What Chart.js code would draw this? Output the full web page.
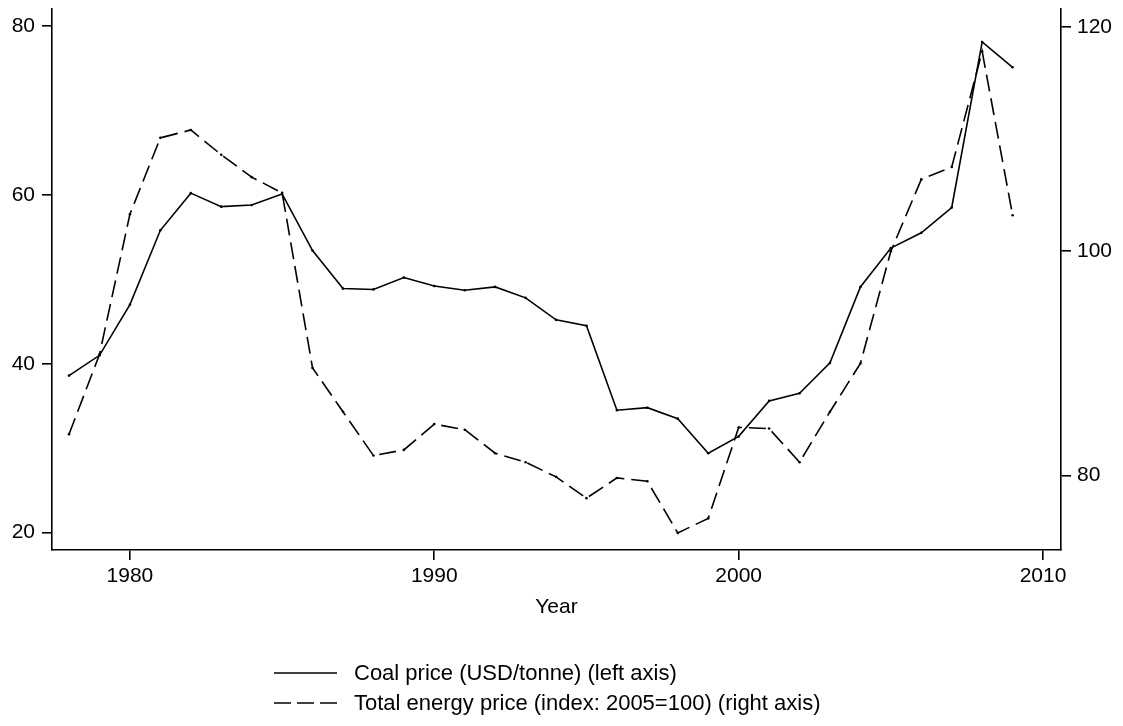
<!DOCTYPE html>
<html>
<head>
<meta charset="utf-8">
<script src="https://cdn.jsdelivr.net/npm/chart.js@4"></script>
<style>
    body { margin: 0; background: #fff; }
    #wrap { position: relative; width: 1123px; height: 726px; }
    .legRow { position: absolute; left: 274px; height: 26px; display: flex; align-items: center;
              font-family: "Liberation Sans", Arial, sans-serif; font-size: 22px; color: #000; }
    .legRow svg { margin-right: 17px; }
</style>
</head>
<body>
<div id="wrap">
    <canvas id="coalChart" width="1123" height="726"></canvas>
    <div class="legRow" style="top:660px">
        <svg width="63" height="4"><line x1="0" y1="2" x2="63" y2="2" stroke="#000" stroke-width="1.6"/></svg>
        <span>Coal price (USD/tonne) (left axis)</span>
    </div>
    <div class="legRow" style="top:690px">
        <svg width="63" height="4"><line x1="0" y1="2" x2="63" y2="2" stroke="#000" stroke-width="1.6" stroke-dasharray="17 6"/></svg>
        <span>Total energy price (index: 2005=100) (right axis)</span>
    </div>
</div>
<script>
const years = [1978, 1979, 1980, 1981, 1982, 1983, 1984, 1985, 1986, 1987, 1988, 1989, 1990, 1991, 1992, 1993,
    1994, 1995, 1996, 1997, 1998, 1999, 2000, 2001, 2002, 2003, 2004, 2005, 2006, 2007, 2008, 2009];
const coalPrice = [38.6, 41.0, 47.0, 55.8, 60.2, 58.6, 58.8, 60.1, 53.4, 48.9, 48.8, 50.2, 49.2, 48.7, 49.1, 47.8,
    45.2, 44.5, 34.5, 34.8, 33.5, 29.4, 31.4, 35.6, 36.5, 40.1, 49.1, 53.7, 55.5, 58.5, 78.1, 75.1];
const energyIndex = [83.7, 90.8, 103.3, 110.1, 110.8, 108.6, 106.6, 105.2, 89.6, 85.7, 81.8, 82.3, 84.6, 84.1, 82.0, 81.2,
    79.9, 78.0, 79.8, 79.5, 74.9, 76.2, 84.3, 84.2, 81.2, 85.7, 90.0, 100.0, 106.4, 107.5, 117.8, 103.2];

const xTicks = [1980, 1990, 2000, 2010];
const leftTicks = [20, 40, 60, 80];
const rightTicks = [80, 100, 120];

const font = { family: '"Liberation Sans", Arial, sans-serif', size: 21 };

function axisStyle() {
    return {
        grid: { display: true, drawOnChartArea: false, drawTicks: true, tickLength: 10, color: '#000', lineWidth: 1.6 },
        border: { display: true, color: '#000', width: 1.6 },
        ticks: { color: '#000', font: font, callback: v => String(v) }
    };
}

// fix the plot box so it sits where the reference one does
function noPad(s) {
    s.paddingTop = 0;
    s.paddingBottom = 0;
    s.paddingLeft = 0;
    s.paddingRight = 0;
}

const xAxis = axisStyle();
xAxis.type = 'linear';
xAxis.min = 1977.44;
xAxis.max = 2010.59;
xAxis.ticks.padding = 4;
xAxis.ticks.maxRotation = 0;
xAxis.title = { display: true, text: 'Year', color: '#000', font: font, padding: 0 };
xAxis.afterBuildTicks = s => { s.ticks = xTicks.map(v => ({ value: v })); };
xAxis.afterFit = s => { s.height = 70; noPad(s); };

const yLeft = axisStyle();
yLeft.position = 'left';
yLeft.min = 17.95;
yLeft.max = 82.0;
yLeft.ticks.padding = 7;
yLeft.afterBuildTicks = s => { s.ticks = leftTicks.map(v => ({ value: v })); };
yLeft.afterFit = s => { s.width = 52; noPad(s); };

const yRight = axisStyle();
yRight.position = 'right';
yRight.min = 73.38;
yRight.max = 121.58;
yRight.ticks.padding = 6;
yRight.afterBuildTicks = s => { s.ticks = rightTicks.map(v => ({ value: v })); };
yRight.afterFit = s => { s.width = 62; noPad(s); };

const ctx = document.getElementById('coalChart').getContext('2d');
const coalChart = new Chart(ctx, {
    type: 'line',
    data: {
        datasets: [{
            label: 'Coal price (USD/tonne) (left axis)',
            data: years.map((yr, i) => ({ x: yr, y: coalPrice[i] })),
            yAxisID: 'y',
            borderColor: '#000',
            backgroundColor: '#000',
            borderWidth: 1.6,
            pointRadius: 1.3,
            pointBorderWidth: 0,
            tension: 0
        }, {
            label: 'Total energy price (index: 2005=100) (right axis)',
            data: years.map((yr, i) => ({ x: yr, y: energyIndex[i] })),
            yAxisID: 'y1',
            borderColor: '#000',
            backgroundColor: '#000',
            borderWidth: 1.6,
            borderDash: [17, 7],
            pointRadius: 1.3,
            pointBorderWidth: 0,
            tension: 0
        }]
    },
    options: {
        responsive: false,
        animation: false,
        layout: { padding: { top: 9, left: 0, right: 0, bottom: 106 } },
        plugins: { legend: { display: false }, tooltip: { enabled: false } },
        scales: { x: xAxis, y: yLeft, y1: yRight }
    }
});
</script>
</body>
</html>
